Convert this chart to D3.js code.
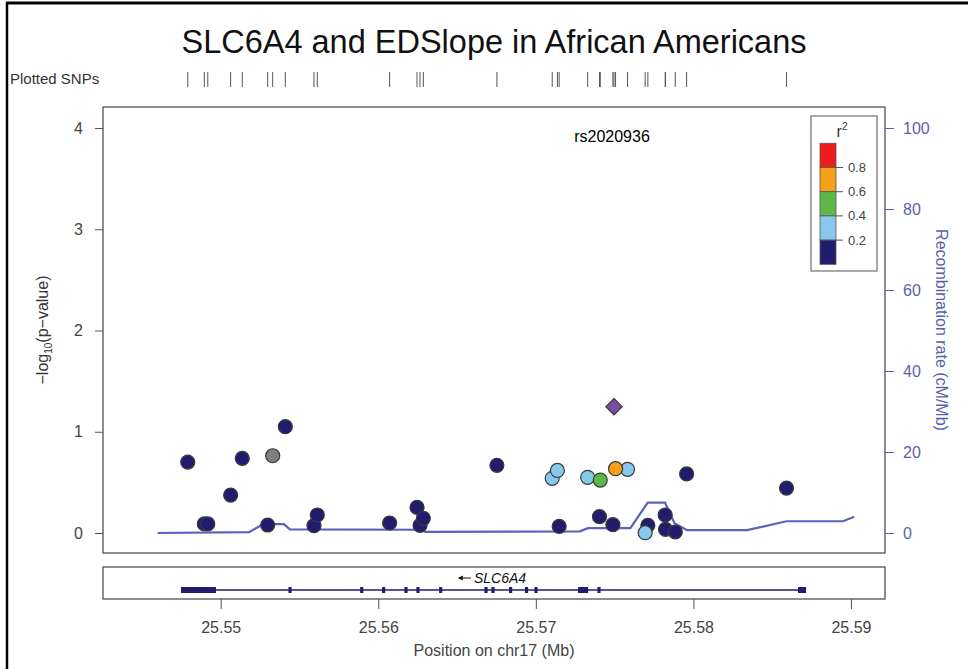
<!DOCTYPE html>
<html>
<head>
<meta charset="utf-8">
<script src="https://cdn.jsdelivr.net/npm/d3@7"></script>
<style>
  body { margin: 0; background: #fff; }
  text { font-family: "Liberation Sans", Arial, sans-serif; }
</style>
</head>
<body>
<div id="chart"></div>
<script>
// data
var snpPos = [25.54791, 25.54896, 25.54918, 25.55063, 25.55137, 25.55298, 25.55330, 25.55410,
  25.55592, 25.55613, 25.56072, 25.56246, 25.56265, 25.56286, 25.56753, 25.57104, 25.57137,
  25.57148, 25.57329, 25.57404, 25.57409, 25.57489, 25.57506, 25.57582, 25.57694, 25.57711,
  25.57821, 25.57823, 25.57885, 25.57957, 25.58591];
var snpLogP = [0.70, 0.09, 0.09, 0.375, 0.737, 0.079, 0.763, 1.05,
  0.072, 0.178, 0.099, 0.254, 0.076, 0.145, 0.668, 0.54, 0.618,
  0.066, 0.55, 0.161, 0.523, 0.082, 0.635, 0.629, 0.003, 0.076,
  0.178, 0.036, 0.01, 0.583, 0.444];
// r2 with the lead SNP (null = no LD information)
var snpR2 = [0.1, 0.1, 0.1, 0.1, 0.1, 0.1, null, 0.1,
  0.1, 0.1, 0.1, 0.1, 0.1, 0.1, 0.1, 0.3, 0.3,
  0.1, 0.3, 0.1, 0.5, 0.1, 0.7, 0.3, 0.3, 0.1,
  0.1, 0.1, 0.1, 0.1, 0.1];

var leadName = "rs2020936";
var leadPos = 25.57496;
var leadLogP = 1.248;

var recPos = [25.5460, 25.5518, 25.5527, 25.5540, 25.5544, 25.5627, 25.5630, 25.5728, 25.5733,
  25.5760, 25.5771, 25.5782, 25.5788, 25.5796, 25.5834, 25.5859, 25.5895, 25.5902];
var recRate = [0.0, 0.2, 2.2, 2.2, 0.9, 0.8, 0.3, 0.4, 1.2,
  1.2, 7.5, 7.5, 2.4, 0.7, 0.7, 2.9, 2.9, 4.0];

var geneName = "SLC6A4";
var geneStart = 25.54748, geneEnd = 25.58708;
var exonStart = [25.54748, 25.55430, 25.55885, 25.56024, 25.56166, 25.56242, 25.56386, 25.56674,
  25.56718, 25.56830, 25.56931, 25.56991, 25.57268, 25.57391, 25.58664];
var exonEnd = [25.54970, 25.55450, 25.55905, 25.56044, 25.56186, 25.56262, 25.56406, 25.56694,
  25.56738, 25.56850, 25.56951, 25.57011, 25.57332, 25.57411, 25.58715];

var xTicks = [25.55, 25.56, 25.57, 25.58, 25.59];
var yTicks = [0, 1, 2, 3, 4];
var recTicks = [0, 20, 40, 60, 80, 100];
var r2Breaks = [0.2, 0.4, 0.6, 0.8];
var r2Colors = ["#221c6e", "#87c9ec", "#5cb848", "#f7a11a", "#ee1c1c"];

var svgWidth = 968, svgHeight = 669;
var blue = "#5b5fad";

var svg = d3.select("#chart").append("svg")
  .attr("width", svgWidth)
  .attr("height", svgHeight);

// outer frame
svg.append("line").attr("x1", 6).attr("x2", svgWidth).attr("y1", 3).attr("y2", 3)
  .attr("stroke", "#000").attr("stroke-width", 3);
svg.append("line").attr("x1", 7).attr("x2", 7).attr("y1", 2).attr("y2", svgHeight)
  .attr("stroke", "#000").attr("stroke-width", 2.5);

// scales
var x = d3.scaleLinear().domain([25.54253, 25.59216]).range([103, 885]);
var y = d3.scaleLinear().domain([0, 4]).range([533, 128]);
var yRec = d3.scaleLinear().domain([0, 100]).range([533, 128]);
var color = d3.scaleThreshold().domain(r2Breaks).range(r2Colors);

// title
svg.append("text")
  .attr("x", 494).attr("y", 53)
  .attr("text-anchor", "middle")
  .attr("font-size", 32.5)
  .attr("fill", "#111")
  .text("SLC6A4 and EDSlope in African Americans");

// plotted SNPs rug
svg.append("text")
  .attr("x", 10).attr("y", 84)
  .attr("font-size", 15)
  .attr("fill", "#333")
  .text("Plotted SNPs");

var rugPos = snpPos.concat([leadPos]);
svg.append("g").selectAll("line")
  .data(rugPos)
  .enter().append("line")
  .attr("x1", d => x(d)).attr("x2", d => x(d))
  .attr("y1", 72).attr("y2", 87)
  .attr("stroke", "#555").attr("stroke-width", 1);

// main plot box
svg.append("rect")
  .attr("x", 103).attr("y", 107)
  .attr("width", 782).attr("height", 446)
  .attr("fill", "none").attr("stroke", "#444").attr("stroke-width", 1.2);

// left axis
var leftAxis = d3.axisLeft(y).tickValues(yTicks).tickSize(8).tickPadding(12)
  .tickFormat(d3.format("d"));
var gl = svg.append("g").attr("transform", "translate(103,0)").call(leftAxis);
gl.select(".domain").remove();
gl.selectAll("line").attr("stroke", "#555");
gl.selectAll("text").attr("font-size", 16).attr("fill", "#444")
  .attr("font-family", "Liberation Sans, Arial, sans-serif");

// right axis (recombination)
var rightAxis = d3.axisRight(yRec).tickValues(recTicks).tickSize(9).tickPadding(9);
var gr = svg.append("g").attr("transform", "translate(885,0)").call(rightAxis);
gr.select(".domain").remove();
gr.selectAll("line").attr("stroke", blue);
gr.selectAll("text").attr("font-size", 16).attr("fill", blue)
  .attr("font-family", "Liberation Sans, Arial, sans-serif");

// axis titles
var yl = svg.append("text")
  .attr("transform", "translate(48,330) rotate(-90)")
  .attr("text-anchor", "middle")
  .attr("font-size", 16)
  .attr("fill", "#333");
yl.append("tspan").text("\u2212log");
yl.append("tspan").attr("font-size", 10).attr("dy", 4).text("10");
yl.append("tspan").attr("dy", -4).text("(p\u2212value)");

svg.append("text")
  .attr("transform", "translate(936,330) rotate(90)")
  .attr("text-anchor", "middle")
  .attr("font-size", 16)
  .attr("fill", blue)
  .text("Recombination rate (cM/Mb)");

// recombination line
var recLine = d3.line()
  .x((d, i) => x(recPos[i]))
  .y(d => yRec(d));
svg.append("path")
  .datum(recRate)
  .attr("d", recLine)
  .attr("fill", "none")
  .attr("stroke", "#5a62bb")
  .attr("stroke-width", 2.2);

// SNP points, lower r2 drawn first
var snps = snpPos.map((p, i) => ({pos: p, logp: snpLogP[i], r2: snpR2[i]}));
snps.sort((a, b) => (a.r2 === null ? 0.05 : a.r2) - (b.r2 === null ? 0.05 : b.r2));

svg.append("g").selectAll("circle")
  .data(snps)
  .enter().append("circle")
  .attr("cx", d => x(d.pos))
  .attr("cy", d => y(d.logp))
  .attr("r", 7)
  .attr("fill", d => d.r2 === null ? "#7f7f7f" : color(d.r2))
  .attr("stroke", "#3a3a3a")
  .attr("stroke-width", 1.2);

// lead SNP
svg.append("path")
  .attr("d", d3.symbol().type(d3.symbolDiamond2).size(170)())
  .attr("transform", `translate(${x(leadPos)},${y(leadLogP)})`)
  .attr("fill", "#7a4d9e")
  .attr("stroke", "#3a3a3a")
  .attr("stroke-width", 1.2);

svg.append("text")
  .attr("x", 612).attr("y", 142)
  .attr("text-anchor", "middle")
  .attr("font-size", 16)
  .attr("fill", "#000")
  .text(leadName);

// legend
var legend = svg.append("g");
legend.append("rect")
  .attr("x", 811).attr("y", 116)
  .attr("width", 66).attr("height", 155)
  .attr("fill", "#fff").attr("stroke", "#555").attr("stroke-width", 1);
var lt = legend.append("text")
  .attr("x", 842).attr("y", 137)
  .attr("text-anchor", "middle")
  .attr("font-size", 16).attr("fill", "#333");
lt.append("tspan").text("r");
lt.append("tspan").attr("font-size", 10).attr("dy", -7).text("2");

var segH = 24.2, barTop = 143.3;
var bins = r2Colors.slice().reverse();
legend.selectAll(".seg")
  .data(bins)
  .enter().append("rect")
  .attr("x", 820).attr("y", (d, i) => barTop + i * segH)
  .attr("width", 16).attr("height", segH)
  .attr("fill", d => d).attr("stroke", "#555").attr("stroke-width", 0.8);
var legBreaks = r2Breaks.slice().reverse();
legend.selectAll(".tk")
  .data(legBreaks)
  .enter().append("line")
  .attr("x1", 836).attr("x2", 843)
  .attr("y1", (d, i) => barTop + (i + 1) * segH)
  .attr("y2", (d, i) => barTop + (i + 1) * segH)
  .attr("stroke", "#555");
legend.selectAll(".lb")
  .data(legBreaks)
  .enter().append("text")
  .attr("x", 848)
  .attr("y", (d, i) => barTop + (i + 1) * segH + 4.5)
  .attr("font-size", 13).attr("fill", "#444")
  .text(d => d.toFixed(1));

// gene track
svg.append("rect")
  .attr("x", 103).attr("y", 567)
  .attr("width", 782).attr("height", 32)
  .attr("fill", "none").attr("stroke", "#444").attr("stroke-width", 1.2);

var geneColor = "#221c6e";
svg.append("line")
  .attr("x1", x(geneStart)).attr("x2", x(geneEnd))
  .attr("y1", 590).attr("y2", 590)
  .attr("stroke", geneColor).attr("stroke-width", 1.3);
svg.append("g").selectAll("rect")
  .data(exonStart)
  .enter().append("rect")
  .attr("x", d => x(d))
  .attr("width", (d, i) => Math.max(2.5, x(exonEnd[i]) - x(d)))
  .attr("y", 587).attr("height", 6)
  .attr("fill", geneColor);

// gene label with strand arrow (minus strand), centred on the gene
var geneMid = x((geneStart + geneEnd) / 2);
var gLabel = svg.append("text")
  .attr("x", geneMid + 7).attr("y", 583)
  .attr("text-anchor", "middle")
  .attr("font-size", 14)
  .attr("font-style", "italic")
  .attr("fill", "#111")
  .text(geneName);
var lw = gLabel.node().getComputedTextLength();
var ax0 = geneMid + 7 - lw / 2 - 3;
svg.append("line")
  .attr("x1", ax0 - 12).attr("x2", ax0).attr("y1", 578).attr("y2", 578)
  .attr("stroke", "#111").attr("stroke-width", 1);
svg.append("path")
  .attr("d", `M${ax0 - 13},578 L${ax0 - 8},575.5 L${ax0 - 8},580.5 Z`)
  .attr("fill", "#111");

// bottom axis
var bottomAxis = d3.axisBottom(x).tickValues(xTicks).tickSize(10).tickPadding(13)
  .tickFormat(d3.format(".2f"));
var gb = svg.append("g").attr("transform", "translate(0,599)").call(bottomAxis);
gb.select(".domain").remove();
gb.selectAll("line").attr("stroke", "#555");
gb.selectAll("text").attr("font-size", 16).attr("fill", "#444")
  .attr("font-family", "Liberation Sans, Arial, sans-serif");

svg.append("text")
  .attr("x", 494).attr("y", 656)
  .attr("text-anchor", "middle")
  .attr("font-size", 16)
  .attr("fill", "#444")
  .text("Position on chr17 (Mb)");
</script>
</body>
</html>
